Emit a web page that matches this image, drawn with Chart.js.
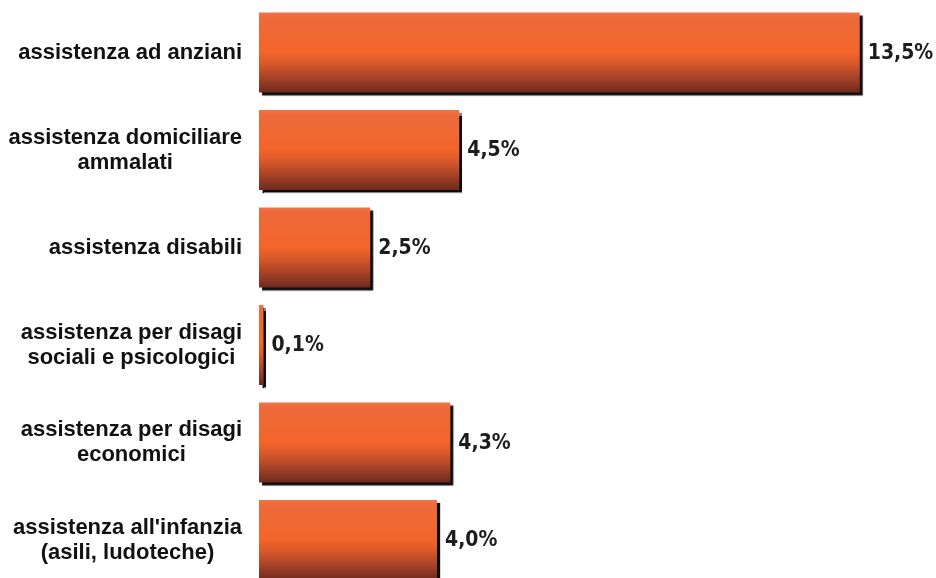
<!DOCTYPE html>
<html>
<head>
<meta charset="utf-8">
<title>Assistenza</title>
<script src="https://cdn.jsdelivr.net/npm/chart.js@4/dist/chart.umd.min.js"></script>
<style>
  html, body { margin: 0; padding: 0; background: #ffffff; overflow: hidden; }
  #wrap { width: 936px; height: 592px; }
</style>
</head>
<body>
<div id="wrap"><canvas id="chart" width="936" height="592"></canvas></div>
<script>
// Categories (each entry is one label, split in lines)
const categories = [
  ["assistenza ad anziani"],
  ["assistenza domiciliare", "ammalati"],
  ["assistenza disabili"],
  ["assistenza per disagi", "sociali e psicologici"],
  ["assistenza per disagi", "economici"],
  ["assistenza all'infanzia", "(asili, ludoteche)"]
];

// Share of respondents, percent
const values = [13.5, 4.5, 2.5, 0.1, 4.3, 4.0];

// Value axis range
const axisMin = 0;
const axisMax = 15;

const BAR_PCT = 0.82;

function formatPct(v) {
  return v.toFixed(1).replace('.', ',') + '%';
}

// Orange-to-brown vertical gradient fitted to each bar
function barFill(ctx) {
  const chart = ctx.chart;
  const ys = chart.scales && chart.scales.y;
  if (!ys || !chart.chartArea || ctx.dataIndex === undefined) return '#F1652B';
  const c = ys.getPixelForValue(ctx.dataIndex);
  const h = (ys.bottom - ys.top) / categories.length * BAR_PCT;
  const g = chart.ctx.createLinearGradient(0, c - h / 2, 0, c + h / 2);
  g.addColorStop(0.00, '#EF7449');
  g.addColorStop(0.06, '#EE6A3B');
  g.addColorStop(0.50, '#F2652A');
  g.addColorStop(0.64, '#D85829');
  g.addColorStop(0.82, '#A54228');
  g.addColorStop(1.00, '#6E2A1C');
  return g;
}

// Hard black drop shadow under the bars
const barShadow = {
  id: 'barShadow',
  beforeDatasetsDraw(chart) {
    const c = chart.ctx;
    c.save();
    c.shadowColor = 'rgba(0,0,0,0.95)';
    c.shadowOffsetX = 3;
    c.shadowOffsetY = 3;
    c.shadowBlur = 1;
  },
  afterDatasetsDraw(chart) {
    chart.ctx.restore();
  }
};

// Category names on the left: right-aligned block, centred lines
const categoryLabels = {
  id: 'categoryLabels',
  afterDraw(chart) {
    const c = chart.ctx;
    const ys = chart.scales.y;
    const right = 242;
    const lh = 25;
    c.save();
    c.font = 'bold 22px "Liberation Sans", Arial, sans-serif';
    c.fillStyle = '#111111';
    c.textAlign = 'center';
    c.textBaseline = 'middle';
    categories.forEach((lines, i) => {
      const yc = ys.getPixelForValue(i);
      const w = Math.max(...lines.map(t => c.measureText(t).width));
      const xc = right - w / 2;
      const y0 = yc - (lines.length - 1) * lh / 2;
      lines.forEach((t, k) => c.fillText(t, xc, y0 + k * lh));
    });
    c.restore();
  }
};

// Percent value at the end of each bar
const valueLabels = {
  id: 'valueLabels',
  afterDatasetsDraw(chart) {
    const c = chart.ctx;
    const meta = chart.getDatasetMeta(0);
    c.save();
    c.font = 'bold 21px "DejaVu Sans Condensed", "DejaVu Sans", sans-serif';
    c.fillStyle = '#1c1c1c';
    c.textAlign = 'left';
    c.textBaseline = 'middle';
    meta.data.forEach((el, i) => {
      c.fillText(formatPct(values[i]), el.x + 8, el.y + 1);
    });
    c.restore();
  }
};

new Chart(document.getElementById('chart'), {
  type: 'bar',
  data: {
    labels: categories,
    datasets: [{
      data: values,
      backgroundColor: barFill,
      borderWidth: 0,
      barPercentage: BAR_PCT,
      categoryPercentage: 1
    }]
  },
  options: {
    indexAxis: 'y',
    responsive: false,
    animation: false,
    devicePixelRatio: 1,
    layout: { padding: { left: 259, right: 9.5, top: 3.75, bottom: 3.25 } },
    scales: {
      x: { display: false, min: axisMin, max: axisMax },
      y: { display: false }
    },
    plugins: {
      legend: { display: false },
      tooltip: { enabled: false }
    }
  },
  plugins: [barShadow, valueLabels, categoryLabels]
});
</script>
</body>
</html>
